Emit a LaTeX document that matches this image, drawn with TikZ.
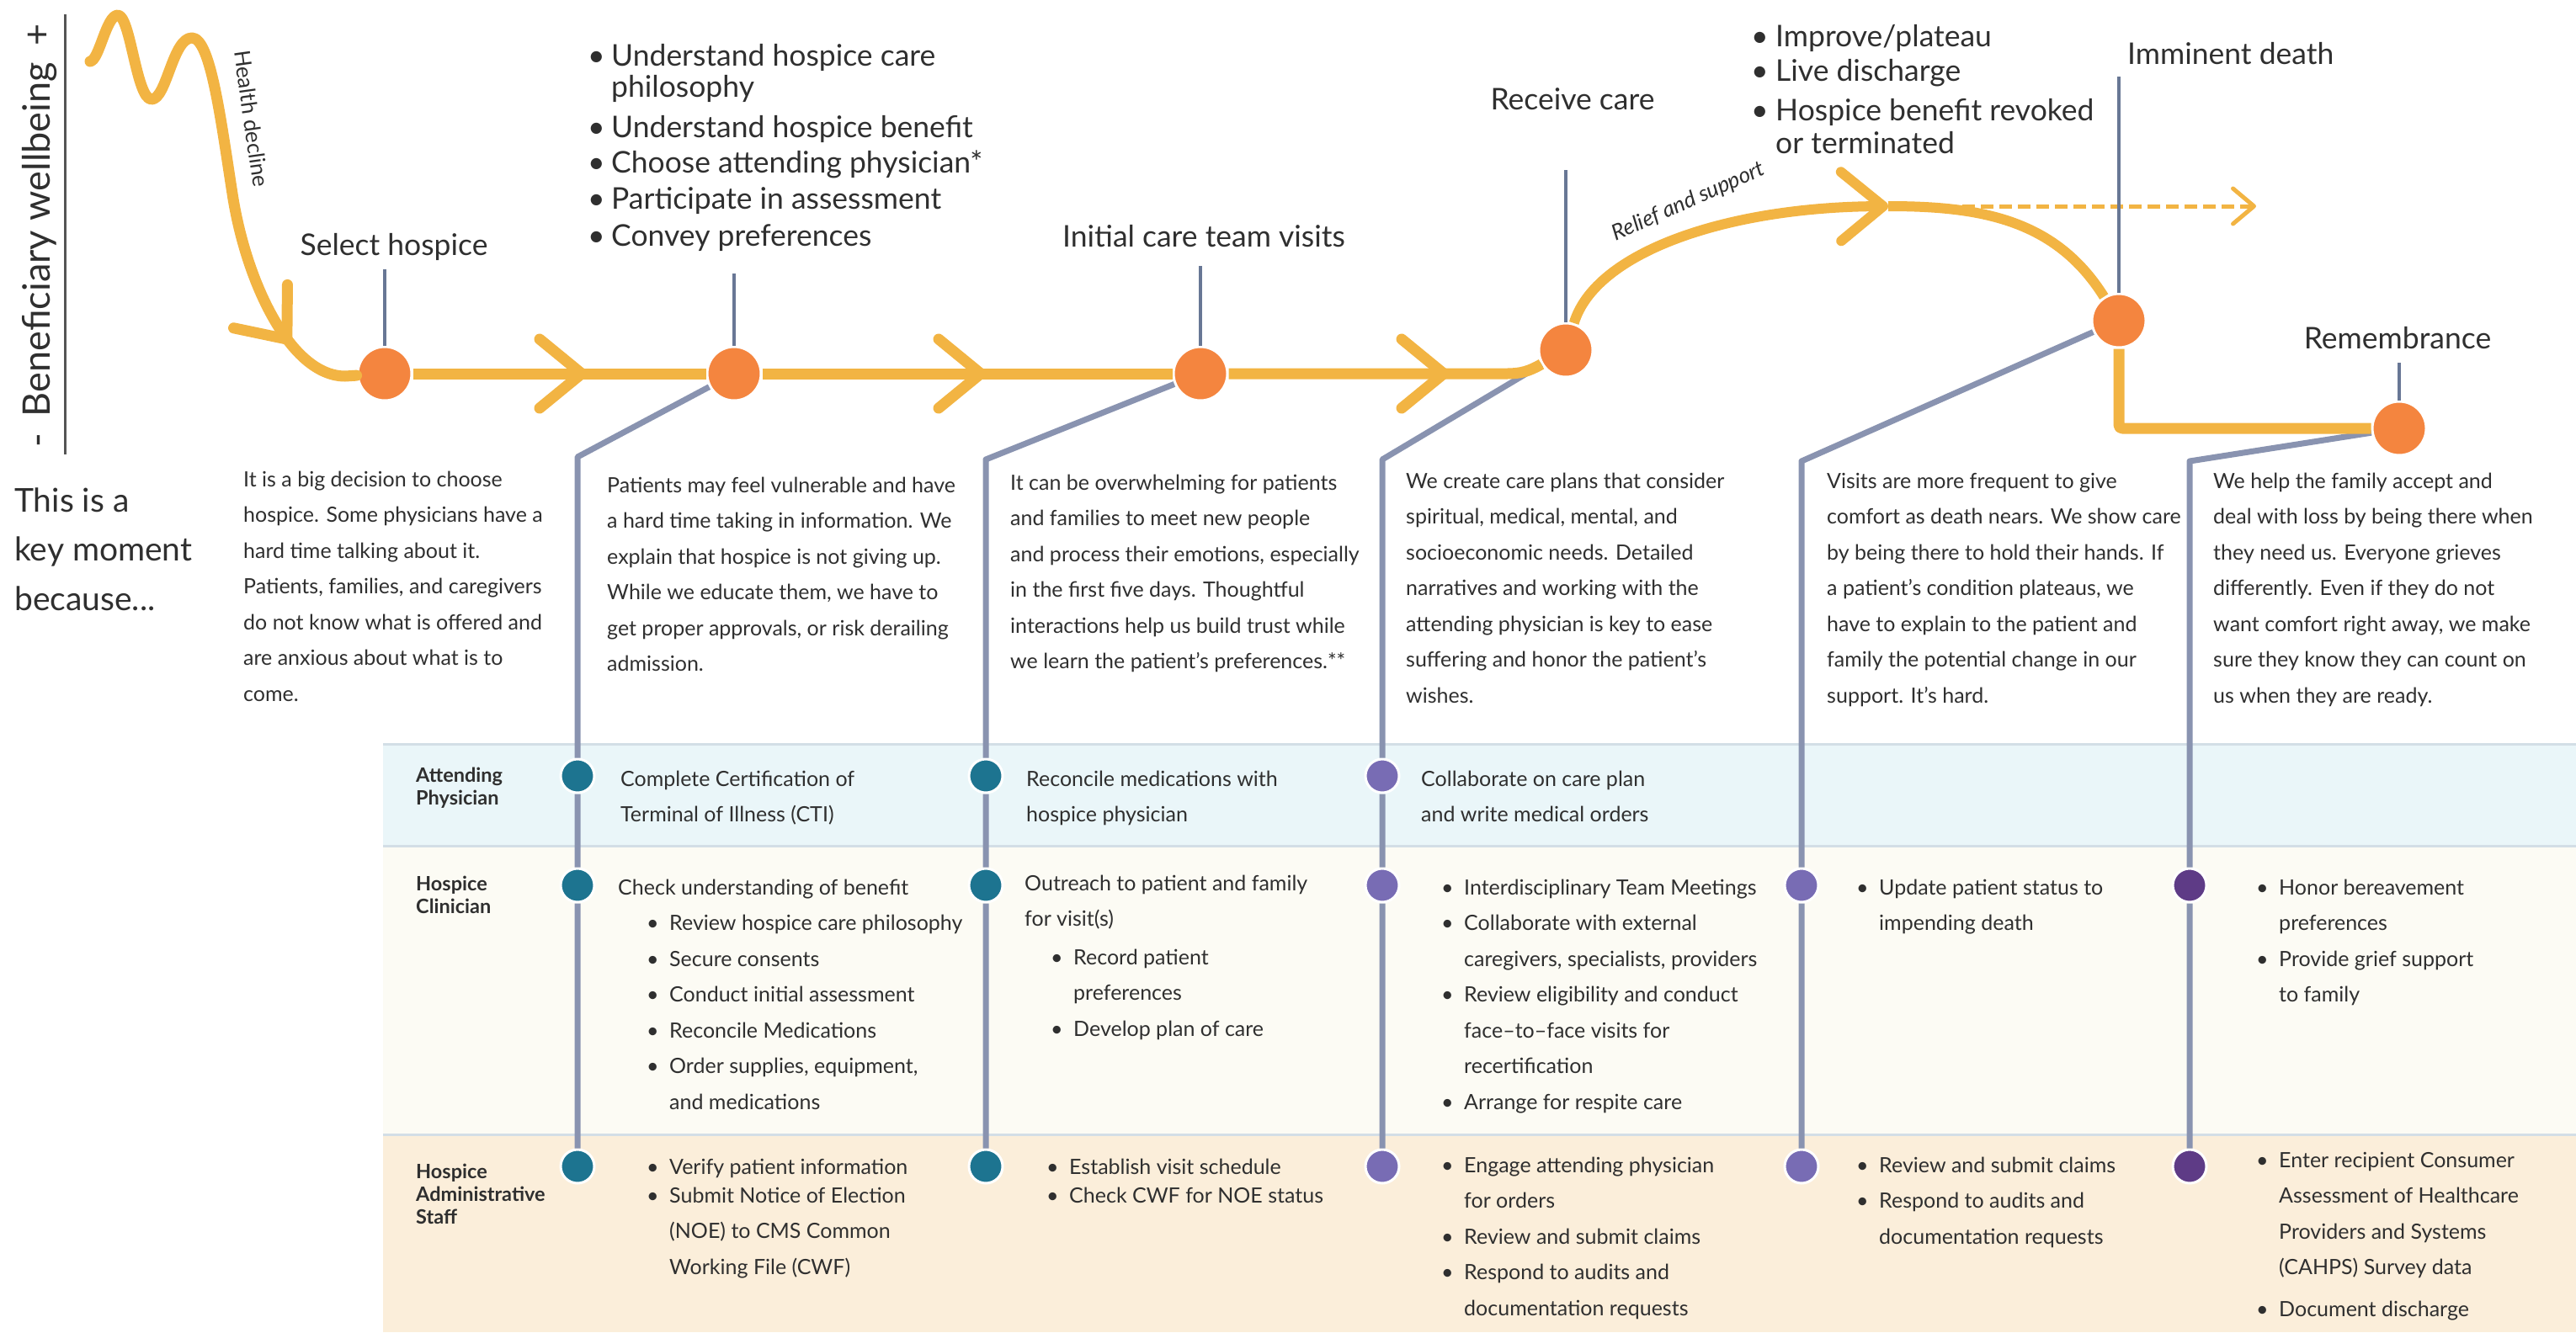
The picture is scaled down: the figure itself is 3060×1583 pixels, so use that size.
\documentclass[tikz,border=0pt]{standalone}
\usepackage{fontspec}
\setmainfont{Lato}
\usetikzlibrary{arrows.meta,decorations.markings}
\definecolor{trailc}{HTML}{F2B443}
\definecolor{stagec}{HTML}{F4853F}
\definecolor{tickc}{HTML}{687795}
\definecolor{linkc}{HTML}{8993B0}
\definecolor{inkc}{HTML}{2F2F2F}
\definecolor{axisc}{HTML}{555555}
\definecolor{tealc}{HTML}{1D7490}
\definecolor{lavc}{HTML}{786CB4}
\definecolor{purc}{HTML}{5E3B86}
\definecolor{physband}{HTML}{EAF6F9}
\definecolor{clinband}{HTML}{FCFBF4}
\definecolor{staffband}{HTML}{FBEEDA}
\definecolor{bandrule}{HTML}{D3DEE6}
\newcommand\dotitem[1][27pt]{\makebox[#1][l]{\textbullet}}
\newcommand\dotgap[1][27pt]{\hspace*{#1}}
\newcommand\linesblock[1]{\begin{tabular}[t]{@{}l@{}}#1\end{tabular}}
\tikzset{
  trail/.style={draw=trailc,line width=13pt,line join=round},
  chevat/.style={postaction={decorate,decoration={markings,
    mark=at position #1 with {\arrow{Straight Barb[length=50pt,width=82pt,round]}}}}},
  stage/.style={circle,fill=stagec,draw=white,line width=3pt,minimum size=64pt,inner sep=0pt},
  lanedot/.style={circle,fill=#1,draw=white,line width=3pt,minimum size=40pt,inner sep=0pt},
  tick/.style={draw=tickc,line width=4pt},
  link/.style={draw=linkc,line width=7pt,line join=round},
  heading/.style={font=\fontsize{35.5}{43}\selectfont,text=inkc,inner sep=0pt},
  body/.style={font=\fontsize{25}{42.5}\selectfont,text=inkc,inner sep=0pt,anchor=base west},
  lanehead/.style={font=\bfseries\fontsize{23.5}{27}\selectfont,text=inkc,inner sep=0pt,anchor=base west}
}
\begin{document}
\begin{tikzpicture}[x=1pt,y=-1pt]
\useasboundingbox (0,0) rectangle (3060,1583);
\filldraw[draw=none,fill=physband] (455,884) rectangle (3060,1005);
\filldraw[draw=none,fill=clinband] (455,1005) rectangle (3060,1348);
\filldraw[draw=none,fill=staffband] (455,1348) rectangle (3060,1583);
\draw[bandrule,line width=3pt] (455,884) -- (3060,884) (455,1005) -- (3060,1005) (455,1348) -- (3060,1348);

\draw[axisc,line width=3pt] (77,17) -- (77,540);
\node[rotate=90,anchor=base,font=\fontsize{45}{45}\selectfont,text=inkc,inner sep=0pt] (axis) at (59,280)
  {-\hspace{20pt}Beneficiary wellbeing\hspace{20pt}+};
\node[font=\fontsize{39}{58.5}\selectfont,text=inkc,inner sep=0pt,anchor=base west] (why)
  at (17,608) {\linesblock{This is a\\key moment\\because...}};

\node[stage] (d1) at (457,444) {};
\node[stage] (d2) at (872,444) {};
\node[stage] (d3) at (1426,444) {};
\node[stage] (d4) at (1860,416) {};
\node[stage] (d5) at (2517,381) {};
\node[stage] (d6) at (2850,509) {};

\foreach \n/\x/\col in {1/686/tealc,2/1171/tealc,3/1642/lavc}
  \node[lanedot=\col] (a\n) at (\x,922) {};
\foreach \n/\x/\col in {1/686/tealc,2/1171/tealc,3/1642/lavc,4/2140/lavc,5/2601/purc}{
  \node[lanedot=\col] (c\n) at (\x,1052) {};
  \node[lanedot=\col] (s\n) at (\x,1386) {};
}

\coordinate (k1) at (686,543);
\coordinate (k2) at (1171,546);
\coordinate (k3) at (1642,546);
\coordinate (k4) at (2140,548);
\coordinate (k5) at (2601,548);
\draw[link] (d2) -- (k1) -- (a1) -- (c1) -- (s1);
\draw[link] (d3) -- (k2) -- (a2) -- (c2) -- (s2);
\draw[link] (d4) -- (k3) -- (a3) -- (c3) -- (s3);
\draw[link] (d5) -- (k4) -- (c4) -- (s4);
\draw[link] (d6) -- (k5) -- (c5) -- (s5);

\draw[trail,line cap=round,chevat=-92pt] (107,73) .. controls (118,72) and (126,18) .. (140,18)
  .. controls (155,18) and (162,118) .. (180,118)
  .. controls (198,118) and (205,45) .. (228,45)
  .. controls (250,45) and (262,140) .. (276,230)
  .. controls (292,335) and (345,447) .. (410,447) -- (d1);
\draw[trail,chevat=207pt] (d1) -- (d2);
\draw[trail,chevat=266pt] (d2) -- (d3);
\coordinate (bend) at (1790,444);
\draw[trail,chevat=262pt] (d3) -- (bend) to[out=0,in=-150] (d4);
\coordinate (crest) at (2243,245);
\coordinate (fade) at (2680,245);
\draw[trail,line width=12pt,-{Straight Barb[length=50pt,width=82pt,round]}] (d4) .. controls (1895,300) and (2050,246) .. (crest);
\draw[trail,line width=12pt] (crest) to[out=0,in=122] (d5);
\draw[trail,line width=5pt,dash pattern=on 15pt off 7pt,-{Straight Barb[length=25pt,width=42pt,round]}] (crest) -- (fade);
\draw[trail,rounded corners=4pt] (d5) |- (d6);

\node[rotate=-82,font=\fontsize{26}{26}\selectfont,text=inkc,inner sep=0pt] (decline) at (299,141) {Health decline};
\node[rotate=24,font=\itshape\fontsize{26}{26}\selectfont,text=inkc,inner sep=0pt] (relief) at (2006,240) {Relief and support};

\coordinate (t1) at (457,320);
\coordinate (t2) at (872,325);
\coordinate (t3) at (1426,316);
\coordinate (t4) at (1860,202);
\coordinate (t5) at (2517,91);
\coordinate (t6) at (2850,431);
\foreach \i in {1,...,6} \draw[tick] (t\i) -- (d\i);

\node[heading,anchor=base] (select) at (468,303) {Select hospice};
\node[heading,anchor=base west] (learn) at (698,78)
  {\linesblock{\dotitem[28pt]Understand hospice care\\[-6pt]\dotgap[28pt]philosophy\\[5pt]\dotitem[28pt]Understand hospice benefit\\[-1pt]
   \dotitem[28pt]Choose attending physician*\\\dotitem[28pt]Participate in assessment\\[1pt]\dotitem[28pt]Convey preferences}};
\node[heading,anchor=base] (visits) at (1430,293) {Initial care team visits};
\node[heading,anchor=base] (receive) at (1868,130) {Receive care};
\node[heading,anchor=base west] (outcome) at (2080,55)
  {\linesblock{\dotitem[29pt]Improve/plateau\\[-2pt]\dotitem[29pt]Live discharge\\[4pt]\dotitem[29pt]Hospice benefit revoked\\[-4pt]\dotgap[29pt]or terminated}};
\node[heading,anchor=base west] (imminent) at (2527,76) {Imminent death};
\node[heading,anchor=base] (remember) at (2848,414) {Remembrance};

\node[body] (why1) at (289,578) {\linesblock{It is a big decision to choose\\hospice. Some physicians have a\\hard time talking about it.\\Patients, families, and caregivers\\do not know what is offered and\\are anxious about what is to\\come.}};
\node[body] (why2) at (721,585) {\linesblock{Patients may feel vulnerable and have\\a hard time taking in information. We\\explain that hospice is not giving up.\\While we educate them, we have to\\get proper approvals, or risk derailing\\admission.}};
\node[body] (why3) at (1200,582) {\linesblock{It can be overwhelming for patients\\and families to meet new people\\and process their emotions, especially\\in the first five days. Thoughtful\\interactions help us build trust while\\we learn the patient's preferences.**}};
\node[body] (why4) at (1670,580) {\linesblock{We create care plans that consider\\spiritual, medical, mental, and\\socioeconomic needs. Detailed\\narratives and working with the\\attending physician is key to ease\\suffering and honor the patient's\\wishes.}};
\node[body] (why5) at (2170,580) {\linesblock{Visits are more frequent to give\\comfort as death nears. We show care\\by being there to hold their hands. If\\a patient's condition plateaus, we\\have to explain to the patient and\\family the potential change in our\\support. It’s hard.}};
\node[body] (why6) at (2629,580) {\linesblock{We help the family accept and\\deal with loss by being there when\\they need us. Everyone grieves\\differently. Even if they do not\\want comfort right away, we make\\sure they know they can count on\\us when they are ready.}};

\node[lanehead] (hphys) at (494,929) {\linesblock{Attending\\Physician}};
\node[lanehead] (hclin) at (494,1058) {\linesblock{Hospice\\Clinician}};
\node[lanehead] (hstaff) at (494,1400) {\linesblock{Hospice\\Administrative\\Staff}};

\node[body] (phys1) at (737,934) {\linesblock{Complete Certification of\\Terminal of Illness (CTI)}};
\node[body] (clin1) at (734,1063) {\linesblock{Check understanding of benefit\\
  \dotgap[34pt]\dotitem Review hospice care philosophy\\
  \dotgap[34pt]\dotitem Secure consents\\
  \dotgap[34pt]\dotitem Conduct initial assessment\\
  \dotgap[34pt]\dotitem Reconcile Medications\\
  \dotgap[34pt]\dotitem Order supplies, equipment,\\
  \dotgap[61pt]and medications}};
\node[body] (staff1) at (768,1395) {\linesblock{\dotitem Verify patient information\\[-8.5pt]\dotitem Submit Notice of Election\\
  \dotgap (NOE) to CMS Common\\ \dotgap Working File (CWF)}};

\node[body] (phys2) at (1219,934) {\linesblock{Reconcile medications with\\hospice physician}};
\node[body] (clin2) at (1217,1058) {\linesblock{Outreach to patient and family\\for visit(s)\\[3pt]
  \dotgap[31pt]\dotitem Record patient\\ \dotgap[58pt]preferences\\ \dotgap[31pt]\dotitem Develop plan of care}};
\node[body] (staff2) at (1243,1395) {\linesblock{\dotitem Establish visit schedule\\[-8.5pt]\dotitem Check CWF for NOE status}};

\node[body] (phys3) at (1688,934) {\linesblock{Collaborate on care plan\\and write medical orders}};
\node[body] (clin3) at (1712,1063) {\linesblock{\dotitem Interdisciplinary Team Meetings\\ \dotitem Collaborate with external\\
  \dotgap caregivers, specialists, providers\\ \dotitem Review eligibility and conduct\\
  \dotgap face–to–face visits for\\ \dotgap recertification\\ \dotitem Arrange for respite care}};
\node[body] (staff3) at (1712,1393) {\linesblock{\dotitem Engage attending physician\\ \dotgap for orders\\ \dotitem Review and submit claims\\
  \dotitem Respond to audits and\\ \dotgap documentation requests}};

\node[body] (clin4) at (2205,1063) {\linesblock{\dotitem Update patient status to\\ \dotgap impending death}};
\node[body] (staff4) at (2205,1393) {\linesblock{\dotitem Review and submit claims\\ \dotitem Respond to audits and\\ \dotgap documentation requests}};

\node[body] (clin5) at (2680,1063) {\linesblock{\dotitem Honor bereavement\\ \dotgap preferences\\ \dotitem Provide grief support\\ \dotgap to family}};
\node[body] (staff5) at (2680,1387) {\linesblock{\dotitem Enter recipient Consumer\\ \dotgap Assessment of Healthcare\\ \dotgap Providers and Systems\\
  \dotgap (CAHPS) Survey data\\[7pt]\dotitem Document discharge}};
\end{tikzpicture}
\end{document}
